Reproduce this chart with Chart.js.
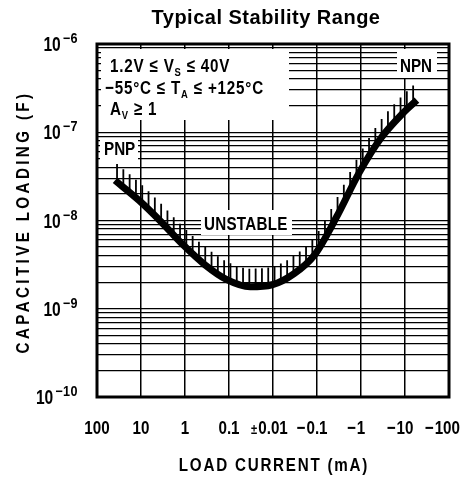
<!DOCTYPE html>
<html>
<head>
<meta charset="utf-8">
<script src="https://cdn.jsdelivr.net/npm/chart.js@4.4.0/dist/chart.umd.min.js"></script>
<style>
  html, body { margin: 0; padding: 0; background: #fff; }
  #wrap { width: 462px; height: 478px; }
</style>
</head>
<body>
<div id="wrap"><canvas id="chart" width="462" height="478"></canvas></div>
<script>
// x axis: equally spaced load current positions
const xLabels = ["100", "10", "1", "0.1", "±0.01", "−0.1", "−1", "−10", "−100"];
// y axis decades and their exponents
const yDecades = [1e-10, 1e-9, 1e-8, 1e-7, 1e-6];
const yExponents = ["−10", "−9", "−8", "−7", "−6"];
const gridSteps = [1, 2, 3, 4, 5, 6, 7, 8, 9];

// stability boundary
const curveX = [0.41, 0.955, 1.45, 1.95, 2.45, 2.95, 3.48, 3.98, 4.48, 4.95, 5.45, 5.95, 6.45, 6.95, 7.27];
const curveC = [2.85e-8, 1.69e-8, 9.75e-9, 5.33e-9, 3.16e-9, 2.14e-9, 1.78e-9, 1.87e-9, 2.5e-9, 4.11e-9, 1.11e-8, 3.42e-8, 8.55e-8, 1.64e-7, 2.31e-7];

const FONT = "'Liberation Sans', Arial, sans-serif";
const SX = 0.8; // condensed look

function runWidth(ctx, parts, size, ls) {
    let w = 0;
    for (const [t, kind] of parts) {
        const s = kind ? size * 0.62 : size;
        ctx.font = `bold ${s}px ${FONT}`;
        ctx.letterSpacing = ls + "px";
        w += ctx.measureText(t).width;
    }
    return w;
}

// draws a run of text pieces ('' normal, 'sub', 'sup')
function drawRun(ctx, parts, x, y, o) {
    const size = o.size, ls = o.ls || 0, sx = o.sx || SX;
    ctx.save();
    const w = runWidth(ctx, parts, size, ls) * sx;
    let x0 = x;
    if (o.align === "center") x0 = x - w / 2;
    if (o.align === "right") x0 = x - w;
    ctx.translate(x0, y);
    ctx.scale(sx, 1);
    ctx.fillStyle = "#000";
    ctx.textAlign = "left";
    ctx.textBaseline = "alphabetic";
    let cx = 0;
    for (const [t, kind] of parts) {
        const s = kind ? size * 0.62 : size;
        ctx.font = `bold ${s}px ${FONT}`;
        ctx.letterSpacing = ls + "px";
        const dy = kind === "sub" ? 4 : kind === "sup" ? -size * 0.4 : 0;
        ctx.fillText(t, cx, dy);
        cx += ctx.measureText(t).width;
    }
    ctx.restore();
}

function yTicks() {
    const ticks = [];
    yDecades.slice(0, -1).forEach(d => gridSteps.forEach(k => ticks.push({ value: d * k })));
    ticks.push({ value: yDecades[yDecades.length - 1] });
    return ticks;
}

// white label boxes, hatching, frame, all text
const decor = {
    id: "decor",
    beforeDatasetsDraw(chart) {
        const ctx = chart.ctx;
        ctx.save();
        ctx.fillStyle = "#fff";
        ctx.fillRect(101, 49, 188, 71);   // conditions block
        ctx.fillRect(397, 49, 40, 29);    // NPN
        ctx.fillRect(100, 138, 38, 22);   // PNP
        ctx.fillRect(201, 210, 91, 25);   // UNSTABLE
        ctx.restore();
    },
    afterDatasetsDraw(chart) {
        const ctx = chart.ctx;
        const pts = chart.getDatasetMeta(0).data;
        // sample the rendered bezier path
        const samp = [];
        for (let i = 0; i < pts.length - 1; i++) {
            const a = pts[i], b = pts[i + 1];
            const c1x = a.cp2x ?? a.x, c1y = a.cp2y ?? a.y;
            const c2x = b.cp1x ?? b.x, c2y = b.cp1y ?? b.y;
            for (let t = 0; t <= 1; t += 0.02) {
                const u = 1 - t;
                samp.push([
                    u * u * u * a.x + 3 * u * u * t * c1x + 3 * u * t * t * c2x + t * t * t * b.x,
                    u * u * u * a.y + 3 * u * u * t * c1y + 3 * u * t * t * c2y + t * t * t * b.y
                ]);
            }
        }
        const yAt = x => {
            for (let i = 0; i < samp.length - 1; i++) {
                const [x1, y1] = samp[i], [x2, y2] = samp[i + 1];
                if (x >= x1 && x <= x2) return y1 + (y2 - y1) * (x - x1) / ((x2 - x1) || 1);
            }
            return null;
        };
        ctx.save();
        ctx.strokeStyle = "#000";
        ctx.lineWidth = 1.8;
        ctx.beginPath();
        const xs = pts[0].x + 2, xe = pts[pts.length - 1].x - 2;
        for (let x = xs; x <= xe; x += 6.3) {
            const y = yAt(x);
            if (y == null) continue;
            ctx.moveTo(x, y);
            ctx.lineTo(x, y - 18);
        }
        ctx.stroke();
        ctx.restore();
    },
    afterDraw(chart) {
        const ctx = chart.ctx;
        const a = chart.chartArea;
        const xs = chart.scales.x, ys = chart.scales.y;
        // frame
        ctx.save();
        ctx.strokeStyle = "#000";
        ctx.lineWidth = 3;
        ctx.strokeRect(a.left, a.top, a.right - a.left, a.bottom - a.top);
        ctx.restore();

        // title
        ctx.save();
        ctx.font = `bold 20px ${FONT}`;
        ctx.letterSpacing = "0.5px";
        ctx.fillStyle = "#000";
        ctx.textAlign = "center";
        ctx.fillText("Typical Stability Range", 266, 24);
        ctx.restore();

        // y tick labels 10^n
        yDecades.forEach((d, i) => {
            const py = ys.getPixelForValue(d);
            const wE = runWidth(ctx, [[yExponents[i], ""]], 14, 0.5) * 0.9;
            drawRun(ctx, [["10", ""]], 78 - wE - 2, py + 7, { size: 20, align: "right", sx: 0.78 });
            drawRun(ctx, [[yExponents[i], ""]], 78 - wE, py - 1, { size: 14, ls: 0.5, sx: 0.9 });
        });

        // x tick labels: digits centred on the grid line, sign hanging left
        xLabels.forEach((lab, i) => {
            const px = xs.getPixelForValue(i);
            let sign = "", num = lab;
            if (lab[0] === "±" || lab[0] === "−") { sign = lab[0]; num = lab.slice(1); }
            const wn = runWidth(ctx, [[num, ""]], 19, 0) * SX;
            let left = px - wn / 2;
            if (left + wn > 460) left = 460 - wn;
            drawRun(ctx, [[num, ""]], left, 434, { size: 19 });
            if (sign) drawRun(ctx, [[sign, ""]], left - 1, 434, { size: sign === "±" ? 14 : 19, align: "right" });
        });

        // axis titles
        drawRun(ctx, [["LOAD CURRENT (mA)", ""]], 274, 471, { size: 19, ls: 2.2, align: "center" });
        ctx.save();
        ctx.translate(29, 222);
        ctx.rotate(-Math.PI / 2);
        drawRun(ctx, [["CAPACITIVE LOADING (F)", ""]], 0, 0, { size: 19, ls: 4.2, align: "center" });
        ctx.restore();

        // annotations
        drawRun(ctx, [["1.2V ≤ V", ""], ["S", "sub"], [" ≤ 40V", ""]], 110, 72, { size: 19, ls: 1 });
        drawRun(ctx, [["−55°C ≤ T", ""], ["A", "sub"], [" ≤ +125°C", ""]], 105, 94, { size: 19, ls: 1 });
        drawRun(ctx, [["A", ""], ["V", "sub"], [" ≥ 1", ""]], 110, 115, { size: 19, ls: 1 });
        drawRun(ctx, [["NPN", ""]], 400, 72, { size: 19 });
        drawRun(ctx, [["PNP", ""]], 104, 155, { size: 19 });
        drawRun(ctx, [["UNSTABLE", ""]], 204, 230, { size: 19, ls: 0.3 });
    }
};

new Chart(document.getElementById("chart"), {
    type: "line",
    data: {
        datasets: [{
            data: curveX.map((x, i) => ({ x, y: curveC[i] })),
            borderColor: "#000",
            borderWidth: 7,
            pointRadius: 0,
            cubicInterpolationMode: "monotone",
            fill: false
        }]
    },
    options: {
        responsive: false,
        animation: false,
        layout: { padding: { left: 0, right: 13, top: 44, bottom: 81 } },
        plugins: { legend: { display: false }, title: { display: false }, tooltip: { enabled: false } },
        scales: {
            x: {
                type: "linear", min: 0, max: xLabels.length - 1,
                ticks: { display: false, stepSize: 1 },
                grid: { color: "#000", lineWidth: 1.5, drawTicks: false },
                border: { display: false },
                afterFit: s => { s.height = 0; }
            },
            y: {
                type: "logarithmic", min: yDecades[0], max: yDecades[yDecades.length - 1],
                afterBuildTicks: s => { s.ticks = yTicks(); },
                ticks: { display: false },
                grid: { color: "#000", lineWidth: 1.3, drawTicks: false },
                border: { display: false },
                afterFit: s => { s.width = 97; }
            }
        }
    },
    plugins: [decor]
});
</script>
</body>
</html>
